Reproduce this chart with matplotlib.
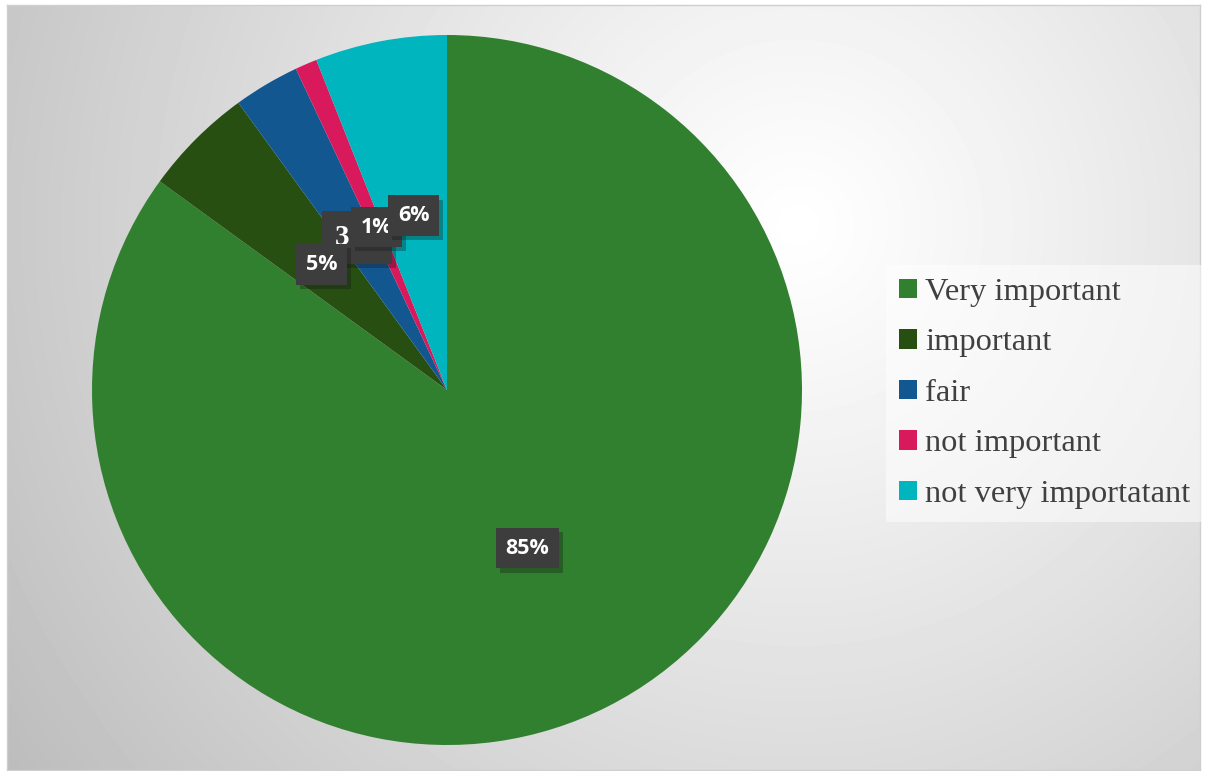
import matplotlib.pyplot as plt
import matplotlib.patheffects as pe
import numpy as np

# data
labels = ['Very important', 'important', 'fair', 'not important', 'not very importatant']
values = [85, 5, 3, 1, 6]
colors = ['#31802f', '#284f12', '#135791', '#d81a5c', '#00b5bd']

W, H = 1206, 771
fig = plt.figure(figsize=(W / 100, H / 100), dpi=100)
fig.patch.set_facecolor('white')

# background with radial gradient
bg = fig.add_axes([7 / W, 1 - 770 / H, 1193 / W, 765 / H])
yy, xx = np.mgrid[0:765, 0:1193]
d = np.hypot(xx - 790, yy - 220) / 820.0
g = 1.0 - 0.22 * np.clip(d, 0, 1.2) ** 1.1
bg.imshow(g, cmap='gray', vmin=0, vmax=1, aspect='auto', interpolation='bilinear')
bg.set_xticks([])
bg.set_yticks([])
for s in bg.spines.values():
    s.set_color('#cfcfcf')
    s.set_linewidth(1)

# pie
ax = fig.add_axes([92 / W, 1 - 745 / H, 710 / W, 710 / H])
ax.set_facecolor('none')
wedges, texts, autotexts = ax.pie(values, colors=colors, startangle=90, counterclock=False,
                                  autopct='%1.0f%%', pctdistance=0.5, radius=1,
                                  wedgeprops=dict(linewidth=0),
                                  textprops=dict(color='white', fontsize=15.5, fontweight='bold',
                                                 family=['Open Sans', 'DejaVu Sans']))
ax.set_xlim(-1, 1)
ax.set_ylim(-1, 1)
ax.set_aspect('equal')
ax.axis('off')

for i, t in enumerate(autotexts):
    t.set_bbox(dict(boxstyle='square,pad=0.45', facecolor='#3d3d3d', edgecolor='none'))
    t.get_bbox_patch().set_path_effects([pe.SimplePatchShadow(offset=(3, -3), alpha=0.3), pe.Normal()])
    t.set_zorder(5 + i)
# the 3% label sits behind its neighbours
autotexts[2].set_zorder(4)
autotexts[2].set_family(['Liberation Serif'])
autotexts[2].set_fontsize(21)

# legend
leg = fig.legend(wedges, labels, loc='upper left', bbox_to_anchor=(886 / W, 1 - 265 / H),
                 frameon=True, fancybox=False, handlelength=0.55, handleheight=0.55,
                 handletextpad=0.25, labelspacing=0.66, borderpad=0.4, borderaxespad=0,
                 prop=dict(family='Liberation Serif', size=23.4))
leg.get_frame().set_facecolor('white')
leg.get_frame().set_alpha(0.5)
leg.get_frame().set_edgecolor('none')
for t in leg.get_texts():
    t.set_color('#404040')

fig.savefig('out.png', dpi=100)
